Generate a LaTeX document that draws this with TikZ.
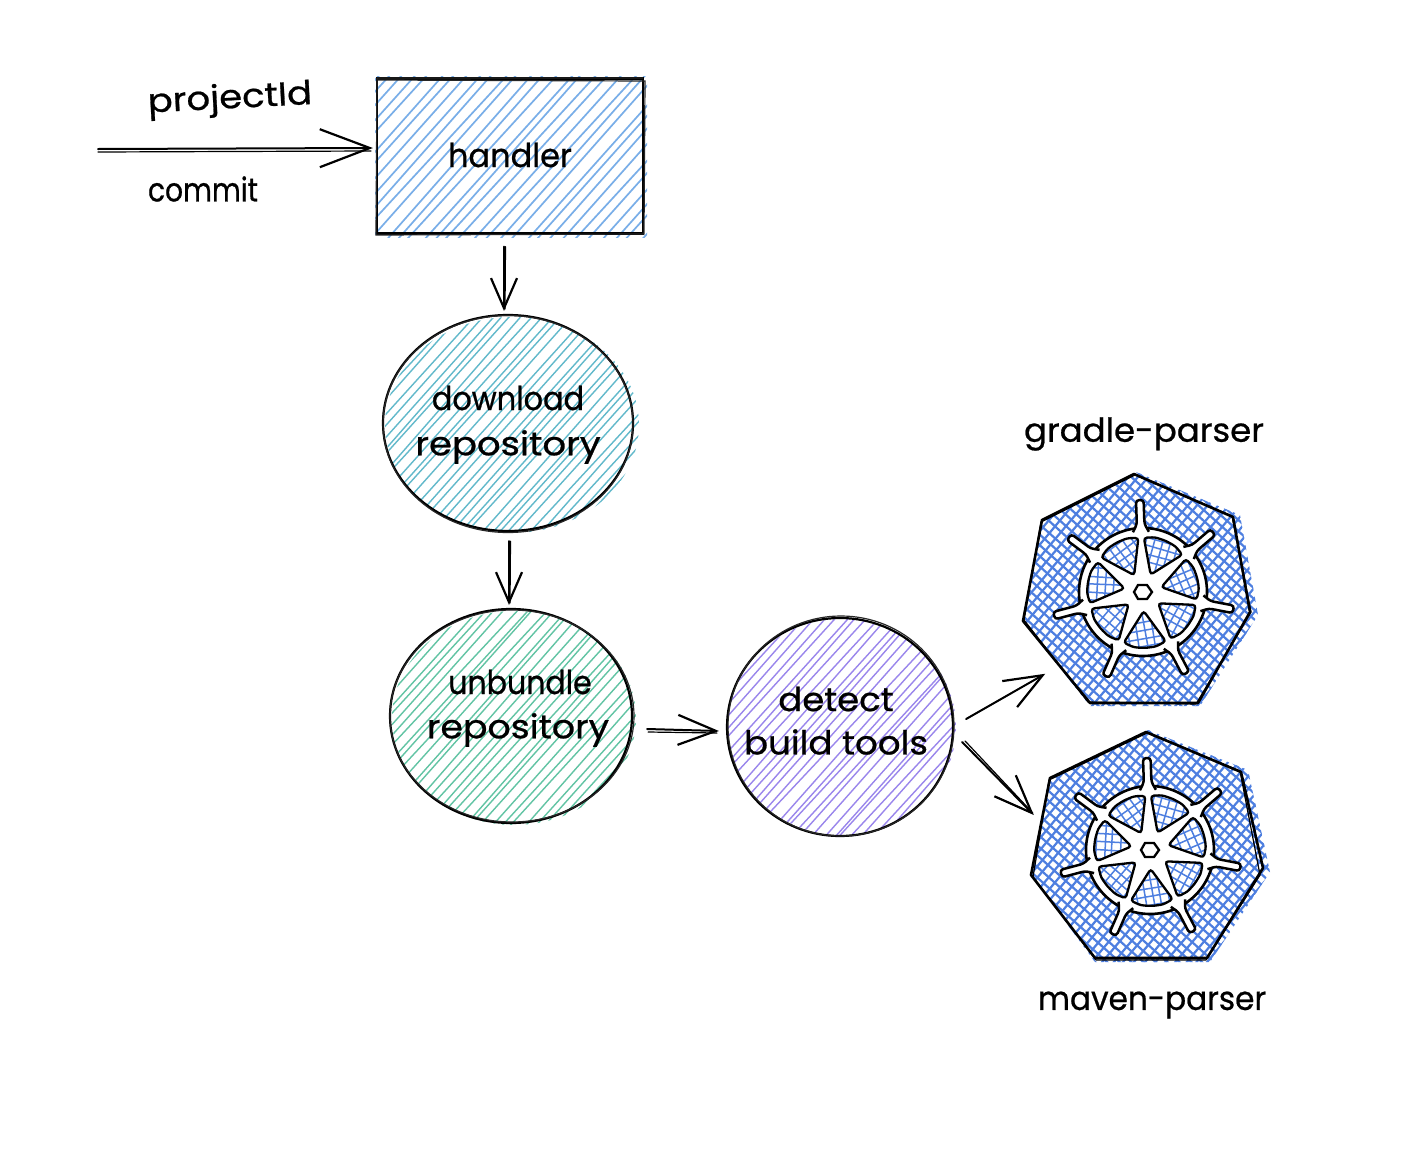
\documentclass[tikz,border=0pt]{standalone}
\usepackage{fontspec}
\usepackage{graphicx}
\setmainfont{Poppins}[FakeBold=0.7]
\usetikzlibrary{arrows.meta,shapes.geometric,calc}
\definecolor{hblue}{HTML}{79AEE8}
\definecolor{hteal}{HTML}{62B9CB}
\definecolor{hgreen}{HTML}{62C4A4}
\definecolor{hpurple}{HTML}{9A86EC}
\definecolor{kblue}{HTML}{4E7FE0}
\tikzset{
  outline/.style={draw=black,line width=2.2pt},
  thinline/.style={draw=black!85,line width=1.2pt},
  second/.style={draw=black,line width=1.2pt,line cap=round},
  flow/.style={draw=black,line width=2pt,line cap=round,-{Straight Barb[length=30pt,width=26pt,line width=2.2pt]}},
  flowbig/.style={draw=black,line width=2pt,line cap=round,-{Straight Barb[length=50pt,width=38pt,line width=2.2pt]}},
  flowmid/.style={draw=black,line width=2pt,line cap=round,-{Straight Barb[length=38pt,width=30pt,line width=2.2pt]}},
  hand/.style={inner sep=0pt,text=black,font=\fontsize{33}{40}\selectfont},
}
% \hatchset{cx}{cy}{R}{spacing}{rotation}{colour}{width}{jitter}
\newcommand{\hatchset}[8]{%
  \begin{scope}[shift={(#1,#2)},rotate=#5]
    \pgfmathtruncatemacro\hn{#3/#4}
    \foreach \i in {-\hn,...,\hn}{
      \pgfmathsetmacro\ja{\i*#4+(rnd-0.5)*#8}
      \pgfmathsetmacro\jb{\i*#4+(rnd-0.5)*#8}
      \draw[#6,line width=#7] (\ja,-#3) -- (\jb,#3);
    }
  \end{scope}}
% \kwheel{cx}{cy}
\newcommand{\kwheel}[2]{%
  \begin{scope}[shift={(#1,#2)}]
    \draw[fill=white,line width=2.6pt] (0,0) circle (64);
    \foreach \k in {0,...,6}{
      \pgfmathsetmacro\a{92+\k*51.43}
      \begin{scope}[rotate=\a]
        \draw[fill=white,line width=2.5pt,rounded corners=3pt] (60,-8) -- (68,-3.8) -- (92,-3.8) -- (92,3.8) -- (68,3.8) -- (60,8);
      \end{scope}
      \pgfmathsetmacro\m{\a+25.71}
      \begin{scope}[rotate=\m]
        \begin{scope}
          \clip[rounded corners=3pt] (19,0) -- (50,-21) -- (55,-11) -- (56,0) -- (55,11) -- (50,21) -- cycle;
          \hatchset{38}{0}{34}{8}{8}{kblue}{1.5pt}{2}
          \hatchset{38}{0}{34}{8}{98}{kblue}{1.5pt}{2}
        \end{scope}
        \draw[line width=2.3pt,rounded corners=3pt] (19,0) -- (50,-21) -- (55,-11) -- (56,0) -- (55,11) -- (50,21) -- cycle;
      \end{scope}
    }
    \draw[line width=2.3pt,fill=white] (9,0) -- (4,7) -- (-5,7) -- (-9,0) -- (-5,-7) -- (4,-7) -- cycle;
  \end{scope}}
\begin{document}
\begin{tikzpicture}[x=1pt,y=-1pt]
\useasboundingbox[fill=white] (0,0) rectangle (1416,1162);
\pgfmathsetseed{4242}

% --- handler
\begin{scope}
  \clip (375,76) rectangle (647,237);
  \hatchset{510}{156}{180}{9.5}{-42}{hblue}{1.7pt}{6}
\end{scope}
\node[rectangle,outline,minimum width=266pt,minimum height=155pt,inner sep=0pt] (handler) at (510,156) {};
\draw[thinline] (378,80) -- (645,81) -- (644,234) -- (376,235) -- (377,78) -- (643,78);

% --- download
\begin{scope}
  \clip (512,425) ellipse (127 and 108);
  \hatchset{508}{423}{140}{7.5}{-42}{hteal}{1.4pt}{6}
\end{scope}
\node[ellipse,outline,minimum width=250pt,minimum height=216pt,inner sep=0pt] (download) at (508,423) {};
\draw[thinline] (508,424) ellipse (125 and 108.5);

% --- unbundle
\begin{scope}
  \clip (514,718) ellipse (122 and 107);
  \hatchset{511}{716}{140}{7.5}{-42}{hgreen}{1.4pt}{6}
\end{scope}
\node[ellipse,outline,minimum width=242pt,minimum height=214pt,inner sep=0pt] (unbundle) at (511,716) {};
\draw[thinline] (512,716) ellipse (122 and 106);

% --- detect
\begin{scope}
  \clip (842,727) ellipse (114 and 108);
  \hatchset{840}{727}{130}{7.5}{-42}{hpurple}{1.4pt}{6}
\end{scope}
\node[ellipse,outline,minimum width=226pt,minimum height=218pt,inner sep=0pt] (detect) at (840,727) {};
\draw[thinline] (841,726) ellipse (113 and 110);

% --- first heptagon
\node[circle,inner sep=0pt,minimum size=228pt] (k1) at (1137,590) {};
\begin{scope}
  \clip (1136,472) -- (1240,515) -- (1258,615) -- (1200,706) -- (1090,706) -- (1023,621) -- (1042,520) -- cycle;
  \hatchset{1137}{590}{140}{8}{-40}{kblue}{2.2pt}{1.6}
  \hatchset{1137}{590}{140}{8}{48}{kblue}{2.2pt}{1.6}
\end{scope}
\draw[line width=2.6pt,line join=round] (1134,474) -- (1233,517) -- (1250,612) -- (1198,703) -- (1090,703) -- (1023,621) -- (1042,520) -- cycle;
\draw[line width=1.2pt,line join=round] (1135,475) -- (1232,516) -- (1251,612) -- (1196,704) -- (1088,702) -- (1024,620) -- (1041,522) -- cycle;
\kwheel{1143}{592}

% --- second heptagon
\node[circle,inner sep=0pt,minimum size=232pt] (k2) at (1147,847) {};
\begin{scope}
  \clip (1148,730) -- (1248,770) -- (1270,872) -- (1210,962) -- (1095,962) -- (1031,875) -- (1050,778) -- cycle;
  \hatchset{1147}{847}{140}{8}{-40}{kblue}{2.2pt}{1.6}
  \hatchset{1147}{847}{140}{8}{48}{kblue}{2.2pt}{1.6}
\end{scope}
\draw[line width=2.6pt,line join=round] (1146,732) -- (1241,772) -- (1263,868) -- (1207,958) -- (1095,958) -- (1031,875) -- (1050,778) -- cycle;
\draw[line width=1.2pt,line join=round] (1147,733) -- (1240,771) -- (1260,875) -- (1206,960) -- (1096,960) -- (1033,877) -- (1049,780) -- cycle;
\kwheel{1150}{850}

% --- connectors
\coordinate (inp) at (98,149);
\draw[flowbig] (inp) -- ([shift={(-3,-8)}]handler.west);
\draw[second] ([yshift=-3pt]inp) -- ([shift={(-5,-5)}]handler.west);
\draw[flow] ([shift={(-6,12)}]handler.south) -- ([shift={(-4,-3)}]download.north);
\draw[second] ([shift={(-4.5,12)}]handler.south) -- ([shift={(-3,-5)}]download.north);
\draw[flow] ([shift={(1,9)}]download.south) -- ([shift={(-2,-3)}]unbundle.north);
\draw[second] ([shift={(2.5,9)}]download.south) -- ([shift={(-1,-5)}]unbundle.north);
\draw[flowmid] ([shift={(14,13)}]unbundle.east) -- ([shift={(-7,4)}]detect.west);
\draw[second] ([shift={(15,16)}]unbundle.east) -- ([shift={(-9,6)}]detect.west);
\draw[flowmid] ([shift={(12,-8)}]detect.east) -- ([shift={(-11,3)}]k1.south west);
\draw[flowmid] ([shift={(8,15)}]detect.east) -- ([shift={(3,-32)}]k2.west);
\draw[second] ([shift={(11,14)}]detect.east) -- ([shift={(2,-34)}]k2.west);

% --- labels
\node[hand,rotate=3] (lproject) at (230,100) {\scalebox{1.12}[1]{projectId}};
\node[hand] (lcommit) at (203,189) {\scalebox{0.85}[1]{commit}};
\node[hand] (lhandler) at (510,155) {\scalebox{0.97}[1]{handler}};
\node[hand] (ldown) at (508,398) {\scalebox{0.92}[1]{download}};
\node[hand] (lrepo1) at (508,447) {\scalebox{1.12}[1]{repository}};
\node[hand] (lunb) at (520,682) {\scalebox{0.91}[1]{unbundle}};
\node[hand] (lrepo2) at (518,730) {\scalebox{1.1}[1]{repository}};
\node[hand] (ldetect) at (836,699) {\scalebox{1.075}[1]{detect}};
\node[hand] (lbuild) at (836,742) {\scalebox{1.08}[1]{build tools}};
\node[hand] (lgradle) at (1144,434) {\scalebox{1.03}[1]{gradle-parser}};
\node[hand] (lmaven) at (1152,1005) {\scalebox{0.945}[1]{maven-parser}};
\end{tikzpicture}
\end{document}
